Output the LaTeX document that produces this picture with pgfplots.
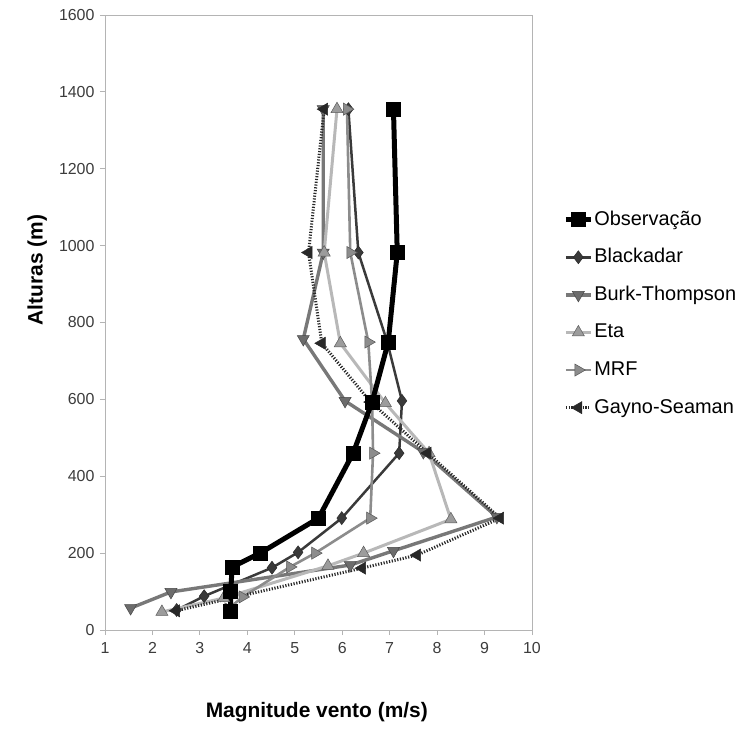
\documentclass[border=0pt]{standalone}
\usepackage{fontspec}
\setmainfont{Liberation Sans}
\usepackage{pgfplots}
\pgfplotsset{compat=1.18}

\definecolor{axgray}{HTML}{B4B4B4}
\definecolor{tickgray}{HTML}{3C3C3C}
\definecolor{cblack}{HTML}{3A3A3A}
\definecolor{cburk}{HTML}{787878}
\definecolor{ceta}{HTML}{B8B8B8}
\definecolor{cmrf}{HTML}{8C8C8C}
\definecolor{cgayno}{HTML}{282828}

\pgfplotsset{
  obsstyle/.style={black, line width=5bp, mark=square*, mark size=7bp,
    mark options={solid, fill=black, draw=black, line width=0.5bp}},
}

\begin{document}
\begin{tikzpicture}
\path[use as bounding box] (-105bp,-100bp) rectangle (644bp,630bp);
\begin{axis}[
  scale only axis, width=427bp, height=615bp,
  xmin=1, xmax=10, ymin=0, ymax=1600,
  xtick={1,...,10}, ytick={0,200,...,1600},
  axis line style={axgray, line width=0.8bp},
  tick style={axgray, line width=0.8bp},
  tick align=outside, major tick length=5bp,
  xtick pos=bottom, ytick pos=left,
  /pgf/number format/assume math mode=true,
  /pgf/number format/1000 sep={},
  tick label style={font=\fontsize{16}{19}\selectfont, text=tickgray},
  xticklabel style={yshift=-4bp},
  yticklabel style={xshift=-2bp},
  xlabel={\bfseries Magnitude vento (m/s)},
  ylabel={\bfseries Alturas (m)},
  label style={font=\fontsize{21}{25}\selectfont},
  xlabel style={at={(axis description cs:0.496,-0.133)}, anchor=center},
  ylabel style={at={(axis description cs:-0.159,0.585)}, anchor=center},
  legend style={at={(axis description cs:1.073,0.683)}, anchor=north west,
    draw=none, fill=none, font=\fontsize{20}{24}\selectfont,
    row sep=18.6bp, inner sep=0pt,
    nodes={inner sep=1bp, text depth=3bp, text height=14bp}},
  legend cell align=left,
  legend image code/.code={
    \draw[mark repeat=2, mark phase=2, #1] plot coordinates {(0bp,0bp) (12.5bp,0bp) (25bp,0bp)};},
  clip=false,
]
\addlegendimage{obsstyle}
\addlegendentry{Observação}

\addplot[cblack, line width=2.5bp, mark=diamond*, mark size=6.5bp,
  mark options={solid, fill=cblack, draw=cblack!70!black, line width=0.5bp}]
  coordinates {(2.51,52) (3.09,88) (4.52,162) (5.07,202) (5.99,291) (7.20,460)
    (7.26,596) (6.95,749) (6.34,982) (6.13,1355)};
\addlegendentry{Blackadar}

\addplot[cburk, line width=3.4bp, mark=triangle*, mark size=7bp,
  mark options={solid, rotate=180, fill=cburk!90!black, draw=cburk!60!black, line width=0.5bp}]
  coordinates {(1.54,57) (2.39,99) (6.17,169) (7.08,206) (9.26,294) (7.71,463)
    (6.06,596) (5.18,757) (5.60,982) (5.60,1355)};
\addlegendentry{Burk-Thompson}

\addplot[ceta, line width=3bp, mark=triangle*, mark size=7bp,
  mark options={solid, fill=ceta!85!black, draw=ceta!50!black, line width=0.5bp}]
  coordinates {(2.20,47) (3.50,83) (5.70,167) (6.45,200) (8.29,288) (7.83,460)
    (6.91,590) (5.96,746) (5.62,982) (5.89,1355)};
\addlegendentry{Eta}

\addplot[cmrf, line width=2.6bp, mark=triangle*, mark size=7bp,
  mark options={solid, rotate=-90, fill=cmrf, draw=cmrf!60!black, line width=0.5bp}]
  coordinates {(3.60,55) (3.90,86) (4.90,164) (5.43,200) (6.59,291) (6.65,460)
    (6.63,593) (6.55,749) (6.17,982) (6.10,1355)};
\addlegendentry{MRF}

\addplot[cgayno, line width=3bp, dash pattern=on 1.2bp off 1.6bp, mark=triangle*, mark size=7bp,
  mark options={solid, rotate=90, fill=cgayno, draw=cgayno, line width=0.5bp}]
  coordinates {(2.50,50) (6.42,161) (7.58,195) (9.33,291) (7.80,460)
    (6.60,593) (5.57,746) (5.29,982) (5.62,1355)};
\addlegendentry{Gayno-Seaman}

\addplot[obsstyle, forget plot]
  coordinates {(3.65,50) (3.65,100) (3.68,164) (4.27,200) (5.50,291) (6.23,460)
    (6.63,593) (6.97,749) (7.16,982) (7.08,1355)};
\end{axis}
\end{tikzpicture}
\end{document}
